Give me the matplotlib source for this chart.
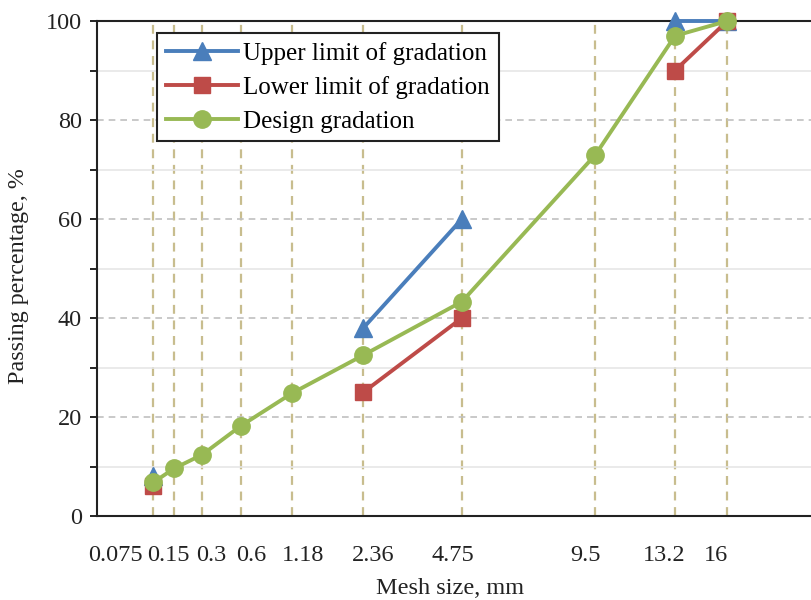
import numpy as np
import matplotlib
matplotlib.use("Agg")
import matplotlib.pyplot as plt
import matplotlib.transforms as mtransforms
from matplotlib.ticker import MultipleLocator

plt.rcParams['font.family'] = ['Liberation Serif', 'DejaVu Serif']

# Sieve sizes (mm) and passing percentages
sieves = [0.075, 0.15, 0.3, 0.6, 1.18, 2.36, 4.75, 9.5, 13.2, 16]
sieve_labels = ["0.075", "0.15", "0.3", "0.6", "1.18", "2.36", "4.75", "9.5", "13.2", "16"]
upper_limit = [8, np.nan, np.nan, np.nan, np.nan, 38, 60, np.nan, 100, 100]
lower_limit = [6, np.nan, np.nan, np.nan, np.nan, 25, 40, np.nan, 90, 100]
design = [6.8, 9.6, 12.4, 18.2, 24.8, 32.5, 43.3, 73, 97, 100]

# horizontal nudges (px) that keep the crowded sieve labels apart
label_nudge = [-38, -6, 9, 10, 11, 10, -9, -10, -11, -11]

POWER = 0.45


def fwd(x):
    return np.power(np.clip(x, 0, None), POWER)


def inv(y):
    return np.power(np.clip(y, 0, None), 1.0 / POWER)


fig = plt.figure(figsize=(8.11, 6.0), dpi=100)
W, H = 811, 600
ax = fig.add_axes([97 / W, (600 - 516) / H, (821 - 97) / W, (516 - 21) / H])
ax.set_xscale('function', functions=(fwd, inv))
ax.set_xlim(0, inv(4.0))
ax.set_ylim(0, 100)

# horizontal grid
ax.yaxis.set_major_locator(MultipleLocator(20))
ax.yaxis.set_minor_locator(MultipleLocator(10))
ax.grid(which='major', axis='y', color='#c0c0c0', linestyle=(0, (4, 3)), linewidth=1.2, zorder=0)
ax.grid(which='minor', axis='y', color='#e6e6e6', linestyle='-', linewidth=1.2, zorder=0)

# vertical sieve lines
for s in sieves:
    ax.axvline(s, color='#c8bd8e', linestyle=(0, (4, 3)), linewidth=1.6, zorder=1)

ax.plot(sieves, upper_limit, color='#4a7ebb', linewidth=2.8, marker='^',
        markersize=12.5, label='Upper limit of gradation', zorder=3, clip_on=False)
ax.plot(sieves, lower_limit, color='#be4b48', linewidth=2.8, marker='s',
        markersize=11, label='Lower limit of gradation', zorder=4, clip_on=False)
ax.plot(sieves, design, color='#98b954', linewidth=2.8, marker='o',
        markersize=12.5, label='Design gradation', zorder=5, clip_on=False)

# axes styling
for side in ['left', 'top', 'bottom']:
    ax.spines[side].set_color('#222222')
    ax.spines[side].set_linewidth(1.5)
ax.spines['right'].set_visible(False)

ax.set_xticks(sieves)
ax.set_xticklabels(sieve_labels, fontsize=17.5, color='#222222')
ax.xaxis.set_minor_locator(plt.NullLocator())
ax.tick_params(axis='x', which='both', length=0, pad=21)
ax.tick_params(axis='y', which='both', direction='out', length=5, width=1.2,
               labelsize=17.5, labelcolor='#222222', pad=6)

for lab, dx in zip(ax.get_xticklabels(), label_nudge):
    lab.set_transform(lab.get_transform() +
                      mtransforms.ScaledTranslation(dx / 100, 0, fig.dpi_scale_trans))

fig.text(19 / W, 1 - 276 / H, 'Passing percentage, %', fontsize=17.3, color='#222222',
         ha='center', va='center', rotation=90)
fig.text(450 / W, 1 - 589 / H, 'Mesh size, mm', fontsize=17.5, color='#222222',
         ha='center', va='center')

leg = ax.legend(loc='upper left', bbox_to_anchor=((157 - 97) / (821 - 97), 1 - (33 - 21) / 495),
                fontsize=18, frameon=True, fancybox=False, edgecolor='#222222',
                framealpha=1, borderpad=0.35, labelspacing=0.45, handlelength=2.9,
                handletextpad=0.2, borderaxespad=0)
leg.get_frame().set_linewidth(1.5)

fig.savefig('out.png', dpi=100)
